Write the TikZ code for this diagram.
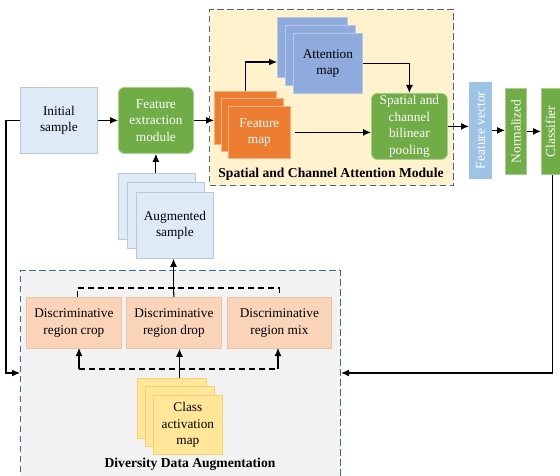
\documentclass[tikz,border=0pt]{standalone}
\usepackage{fontspec}
\setmainfont{Liberation Serif}
\usetikzlibrary{arrows.meta}
\definecolor{cgreen}{HTML}{70AD47}
\definecolor{cgreenb}{HTML}{A9CF8E}
\definecolor{corange}{HTML}{ED7D31}
\definecolor{coranb}{HTML}{F4B183}
\definecolor{catt}{HTML}{8FAADC}
\definecolor{cattb}{HTML}{B4C7E7}
\definecolor{cfv}{HTML}{9DC3E6}
\definecolor{clblue}{HTML}{DEEAF6}
\definecolor{clblueb}{HTML}{BCC8D6}
\definecolor{cpeach}{HTML}{FAD4B8}
\definecolor{cpeachb}{HTML}{EBC3A3}
\definecolor{cyel}{HTML}{FFE699}
\definecolor{cyelb}{HTML}{F3D070}
\definecolor{cscam}{HTML}{FFF2CC}
\definecolor{cdda}{HTML}{F2F2F2}
\definecolor{cdash}{HTML}{3A6A98}
\tikzset{
  txt/.style={font=\fontsize{13.3}{16.5}\selectfont, align=center, inner sep=1pt, anchor=north west},
  lbox/.style={txt, fill=clblue, draw=clblueb, line width=0.8pt},
  gbox/.style={txt, fill=cgreen, draw=cgreenb, line width=0.8pt, rounded corners=6pt, text=white},
  obox/.style={txt, fill=corange, draw=coranb, line width=0.8pt, text=white},
  abox/.style={txt, fill=catt, draw=cattb, line width=0.8pt},
  pbox/.style={txt, fill=cpeach, draw=cpeachb, line width=0.8pt},
  ybox/.style={txt, fill=cyel, draw=cyelb, line width=0.8pt},
  vbox/.style={txt, draw=cgreenb, line width=0.8pt, text=white},
  vtxt/.style={rotate=90, text=white, font=\fontsize{13.5}{15}\selectfont, inner sep=0pt},
  region/.style={draw=cdash, dash pattern=on 6.5pt off 3.5pt, line width=1.1pt, anchor=north west, inner sep=0pt},
  arr/.style={draw=black, line width=1.1pt, -{Latex[length=8pt,width=7pt]}},
  lin/.style={draw=black, line width=1.1pt},
  dsh/.style={draw=black, line width=1.1pt, dash pattern=on 6pt off 4pt},
  ttl/.style={font=\fontsize{13.6}{15}\selectfont\bfseries, inner sep=0pt}
}
\begin{document}
\begin{tikzpicture}[x=1pt,y=-1pt]
\useasboundingbox (0,0) rectangle (560,476);
\clip (0,0) rectangle (560,476);
% regions
\node[region, fill=cdda, minimum width=320pt, minimum height=215pt] (dda) at (20,270) {};
\node[region, fill=cscam, minimum width=244pt, minimum height=176pt] (scam) at (209,9) {};
\node[ttl] (ddal) at (190,464) {Diversity Data Augmentation};
\node[ttl] (scaml) at (331,174) {Spatial and Channel Attention Module};
% top row
\node[lbox, minimum width=77pt, minimum height=66pt] (init) at (20,87) {Initial\\sample};
\node[gbox, minimum width=75pt, minimum height=66pt] (fe) at (118,87) {Feature\\extraction\\module};
% augmented sample stack
\node[lbox, minimum width=77pt, minimum height=66pt] (a1) at (118,173) {};
\node[lbox, minimum width=77pt, minimum height=66pt] (a2) at (127,182) {};
\node[lbox, minimum width=77pt, minimum height=66pt] (a3) at (136,192) {Augmented\\sample};
% feature map stack
\node[obox, minimum width=62pt, minimum height=53pt] (f1) at (214,91) {};
\node[obox, minimum width=62pt, minimum height=53pt] (f2) at (221,98) {};
\node[obox, minimum width=62pt, minimum height=52pt] (f3) at (228,106) {Feature\\map};
% attention map stack
\node[abox, minimum width=70pt, minimum height=60pt] (t1) at (277,17) {};
\node[abox, minimum width=70pt, minimum height=60pt] (t2) at (285,25) {};
\node[abox, minimum width=69pt, minimum height=60pt] (t3) at (293,33) {Attention\\map};
% pooling
\node[gbox, minimum width=76pt, minimum height=66pt] (pool) at (371,93) {Spatial and\\channel\\bilinear\\pooling};
% vertical bars
\node[vbox, fill=cfv, draw=cfv, minimum width=22pt, minimum height=96pt] (fv) at (469,82) {};
\node[vtxt] (fvt) at (fv.center) {Feature vector};
\node[vbox, fill=cgreen, minimum width=21pt, minimum height=86pt] (norm) at (505,88) {};
\node[vtxt] (normt) at (norm.center) {Normalized};
\node[vbox, fill=cgreen, minimum width=22pt, minimum height=86pt] (cls) at (541,88) {};
\node[vtxt] (clst) at ([xshift=-2pt]cls.center) {Classifier};
% DDA boxes
\node[pbox, minimum width=95pt, minimum height=51pt] (crop) at (26,297) {Discriminative\\region crop};
\node[pbox, minimum width=95pt, minimum height=51pt] (drop) at (126,297) {Discriminative\\region drop};
\node[pbox, minimum width=104pt, minimum height=51pt] (mix) at (227,297) {Discriminative\\region mix};
% class activation map stack
\node[ybox, minimum width=69pt, minimum height=60pt] (c1) at (137,378) {};
\node[ybox, minimum width=69pt, minimum height=60pt] (c2) at (145,386) {};
\node[ybox, minimum width=69pt, minimum height=59pt] (c3) at (153,395) {Class\\activation\\map};
% connectors top
\draw[arr] (init.east) -- (fe.west);
\draw[arr] (fe.east) -- (fe.east -| f1.west);
\draw[arr] (fe.south |- a1.north) -- (fe.south);
\draw[arr] (f1.north) |- (t1.west |- 0,62);
\draw[arr] (t3.east) -| (pool.north);
\draw[arr] ([xshift=4pt]f3.east) -- (f3.east -| pool.west);
\draw[arr] (pool.east) -- (pool.east -| fv.west);
\draw[arr] (fv.east) -- (fv.east -| norm.west);
\draw[arr] (norm.east) -- (norm.east -| cls.west);
% feedback loops
\coordinate (lft) at (6,373);
\draw[arr] (init.west) -| (lft) -- (lft -| dda.west);
\draw[arr] (cls.south) |- (dda.east |- lft);
% DDA upper connectors
\coordinate (ju) at (173.5,288);
\draw[dsh] ([xshift=3.5pt]crop.north) |- (ju) -| (mix.north);
\draw[lin] (drop.north) -- (ju);
\draw[arr] (ju) -- (ju |- a3.south);
% DDA lower connectors
\coordinate (jb) at (179.5,369);
\draw[dsh] (79,369) -- (278,369);
\draw[lin] (jb |- c1.north) -- (jb);
\draw[arr] (79,369) -- (79,348);
\draw[arr] (jb) -- (jb |- drop.south);
\draw[arr] (278,369) -- (278,348);
\end{tikzpicture}
\end{document}
